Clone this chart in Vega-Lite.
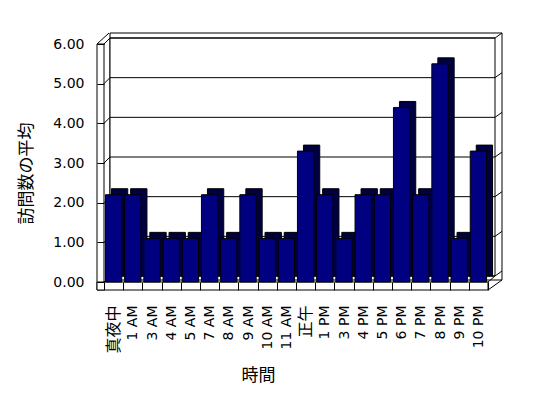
{
  "$schema": "https://vega.github.io/schema/vega-lite/v6.json",
  "width": 384,
  "height": 238,
  "autosize": {"type": "none"},
  "padding": {"left": 104, "top": 44, "right": 60, "bottom": 116},
  "background": "white",
  "config": {
    "view": {"stroke": null},
    "axis": {
      "labelFont": "DejaVu Sans, Noto Sans CJK JP",
      "labelFontSize": 14,
      "labelColor": "black",
      "titleFont": "Noto Sans CJK JP",
      "titleFontSize": 17,
      "titleFontWeight": "normal",
      "titleColor": "black",
      "tickColor": "black",
      "labelOverlap": false
    }
  },
  "datasets": {
    "visits": [
      {"hour": "真夜中", "avg": 2.2},
      {"hour": "1 AM", "avg": 2.2},
      {"hour": "3 AM", "avg": 1.1},
      {"hour": "4 AM", "avg": 1.1},
      {"hour": "5 AM", "avg": 1.1},
      {"hour": "7 AM", "avg": 2.2},
      {"hour": "8 AM", "avg": 1.1},
      {"hour": "9 AM", "avg": 2.2},
      {"hour": "10 AM", "avg": 1.1},
      {"hour": "11 AM", "avg": 1.1},
      {"hour": "正午", "avg": 3.3},
      {"hour": "1 PM", "avg": 2.2},
      {"hour": "3 PM", "avg": 1.1},
      {"hour": "4 PM", "avg": 2.2},
      {"hour": "5 PM", "avg": 2.2},
      {"hour": "6 PM", "avg": 4.4},
      {"hour": "7 PM", "avg": 2.2},
      {"hour": "8 PM", "avg": 5.5},
      {"hour": "9 PM", "avg": 1.1},
      {"hour": "10 PM", "avg": 3.3}
    ],
    "grid": [{"v": 0}, {"v": 1}, {"v": 2}, {"v": 3}, {"v": 4}, {"v": 5}, {"v": 6}]
  },
  "data": {"name": "visits"},
  "resolve": {"scale": {"x": "independent"}, "axis": {"x": "independent", "y": "independent"}},
  "layer": [
    {
      "data": {"values": [{}]},
      "mark": {"type": "rect", "fill": "white", "stroke": "black", "strokeWidth": 1, "xOffset": 6, "x2Offset": 14, "yOffset": -2, "y2Offset": -11},
      "encoding": {
        "x": {"datum": 0, "type": "quantitative", "scale": {"domain": [0, 20]}, "axis": null},
        "x2": {"datum": 20},
        "y": {"datum": 0, "type": "quantitative", "axis": null},
        "y2": {"datum": 6}
      }
    },
    {
      "data": {"values": [{}]},
      "mark": {"type": "rect", "fill": "white", "stroke": "black", "strokeWidth": 1, "xOffset": 6, "x2Offset": 7, "yOffset": -6, "y2Offset": -6},
      "encoding": {
        "x": {"datum": 0, "type": "quantitative", "scale": {"domain": [0, 20]}, "axis": null},
        "x2": {"datum": 20},
        "y": {"datum": 0, "type": "quantitative", "axis": null},
        "y2": {"datum": 6}
      }
    },
    {
      "data": {"name": "grid"},
      "mark": {"type": "rule", "color": "black", "strokeWidth": 1, "xOffset": 6, "x2Offset": 7, "yOffset": -6},
      "encoding": {
        "x": {"datum": 0, "type": "quantitative", "scale": {"domain": [0, 20]}, "axis": null},
        "x2": {"datum": 20},
        "y": {"field": "v", "type": "quantitative", "axis": null}
      }
    },
    {
      "data": {"name": "grid"},
      "mark": {"type": "rule", "color": "black", "strokeWidth": 1, "xOffset": 7, "x2Offset": 14, "yOffset": -6, "y2Offset": -11},
      "encoding": {
        "x": {"datum": 20, "type": "quantitative", "scale": {"domain": [0, 20]}, "axis": null},
        "x2": {"datum": 20},
        "y": {"field": "v", "type": "quantitative", "axis": null},
        "y2": {"field": "v"}
      }
    },
    {
      "data": {"values": [{}]},
      "mark": {"type": "rect", "fill": "white", "stroke": "black", "strokeWidth": 1, "xOffset": -7, "x2Offset": 0, "yOffset": 8, "y2Offset": 0},
      "encoding": {
        "x": {"datum": 0, "type": "quantitative", "scale": {"domain": [0, 20]}, "axis": null},
        "x2": {"datum": 0},
        "y": {"datum": 0, "type": "quantitative", "axis": null},
        "y2": {"datum": 6}
      }
    },
    {
      "data": {"name": "grid"},
      "mark": {"type": "rule", "color": "black", "strokeWidth": 1, "xOffset": 0, "x2Offset": 6, "yOffset": 0, "y2Offset": -6},
      "encoding": {
        "x": {"datum": 0, "type": "quantitative", "scale": {"domain": [0, 20]}, "axis": null},
        "x2": {"datum": 0},
        "y": {"field": "v", "type": "quantitative", "axis": null},
        "y2": {"field": "v"}
      }
    },
    {
      "data": {"values": [{}]},
      "mark": {"type": "rule", "color": "black", "strokeWidth": 1, "xOffset": -7, "x2Offset": 5, "yOffset": 0, "y2Offset": -11},
      "encoding": {
        "x": {"datum": 0, "type": "quantitative", "scale": {"domain": [0, 20]}, "axis": null},
        "x2": {"datum": 0},
        "y": {"datum": 6, "type": "quantitative", "axis": null},
        "y2": {"datum": 6}
      }
    },
    {
      "data": {"values": [{}]},
      "mark": {"type": "rect", "fill": "white", "stroke": "black", "strokeWidth": 1, "xOffset": -7, "x2Offset": 0, "yOffset": 0, "y2Offset": 8},
      "encoding": {
        "x": {"datum": 0, "type": "quantitative", "scale": {"domain": [0, 20]}, "axis": null},
        "x2": {"datum": 20},
        "y": {"datum": 0, "type": "quantitative", "axis": null},
        "y2": {"datum": 0}
      }
    },
    {
      "data": {"values": [{}]},
      "mark": {"type": "rule", "color": "black", "strokeWidth": 1, "xOffset": 0, "x2Offset": 7, "yOffset": 0, "y2Offset": -6},
      "encoding": {
        "x": {"datum": 20, "type": "quantitative", "scale": {"domain": [0, 20]}, "axis": null},
        "x2": {"datum": 20},
        "y": {"datum": 0, "type": "quantitative", "axis": null},
        "y2": {"datum": 0}
      }
    },
    {
      "data": {"values": [{}]},
      "mark": {"type": "rule", "color": "black", "strokeWidth": 1, "xOffset": 0, "x2Offset": 14, "yOffset": 8, "y2Offset": -2},
      "encoding": {
        "x": {"datum": 20, "type": "quantitative", "scale": {"domain": [0, 20]}, "axis": null},
        "x2": {"datum": 20},
        "y": {"datum": 0, "type": "quantitative", "axis": null},
        "y2": {"datum": 0}
      }
    },
    {
      "mark": {"type": "bar", "fill": "#000040", "stroke": "black", "strokeWidth": 1, "width": {"band": 0.85}, "xOffset": 6, "yOffset": -6, "y2Offset": -6},
      "encoding": {
        "x": {"field": "hour", "type": "nominal", "sort": null, "scale": {"paddingInner": 0, "paddingOuter": 0}, "axis": null},
        "y": {"field": "avg", "type": "quantitative", "scale": {"domain": [0, 6], "nice": false}, "axis": null}
      }
    },
    {
      "mark": {"type": "bar", "fill": "#000080", "stroke": "black", "strokeWidth": 1, "width": {"band": 0.85}},
      "encoding": {
        "x": {
          "field": "hour", "type": "nominal", "sort": null,
          "scale": {"paddingInner": 0, "paddingOuter": 0},
          "axis": {
            "orient": "bottom",
            "title": "時間",
            "titleFont": "Noto Sans CJK JP",
            "titleFontSize": 17,
            "titleFontWeight": "normal",
            "titleColor": "black",
            "titleX": 154,
            "titleY": 93,
            "titleBaseline": "middle",
            "titleAlign": "center",
            "domain": false,
            "tickBand": "extent",
            "tickSize": 8,
            "tickColor": "black",
            "labelAngle": -90,
            "labelPadding": 15,
            "labelFont": "DejaVu Sans, Noto Sans CJK JP",
            "labelFontSize": {"condition": {"test": "datum.value == '真夜中' || datum.value == '正午'", "value": 16}, "value": 14},
            "labelColor": "black",
            "labelOverlap": false,
            "zindex": 1
          }
        },
        "y": {
          "field": "avg", "type": "quantitative", "title": "訪問数の平均",
          "scale": {"domain": [0, 6], "nice": false},
          "axis": {
            "orient": "left",
            "values": [0, 1, 2, 3, 4, 5, 6],
            "format": ".2f",
            "grid": false,
            "domain": false,
            "tickSize": 7,
            "tickColor": "black",
            "labelPadding": 13,
            "labelFont": "DejaVu Sans",
            "labelFontSize": 14,
            "labelColor": "black",
            "labelOverlap": false,
            "titleFont": "Noto Sans CJK JP",
            "titleFontSize": 17,
            "titleFontWeight": "normal",
            "titleColor": "black",
            "titleX": -78,
            "titleY": 129,
            "titleBaseline": "middle",
            "titleAlign": "center",
            "zindex": 1
          }
        }
      }
    }
  ]
}
